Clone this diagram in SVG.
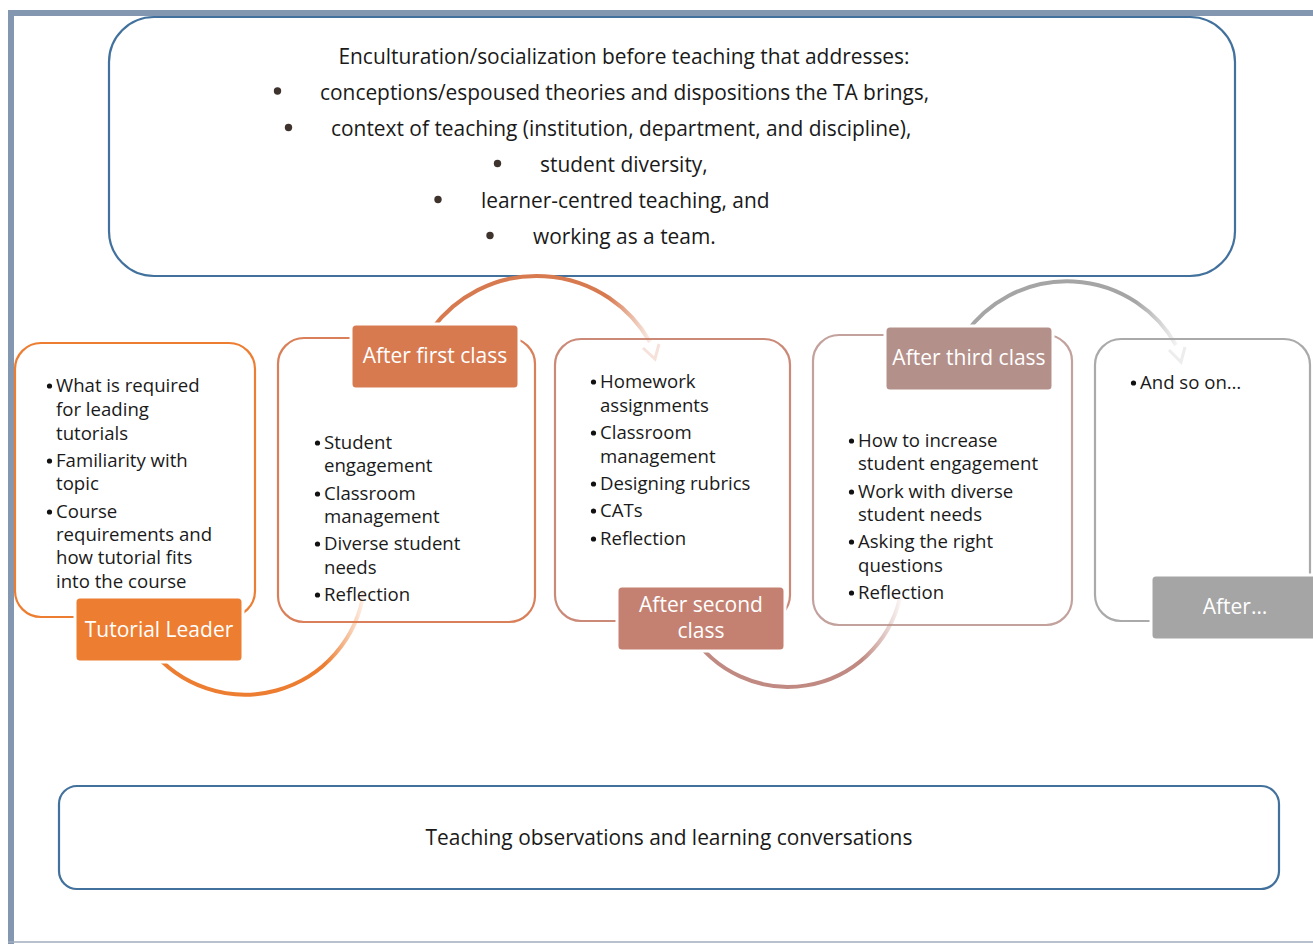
<svg xmlns="http://www.w3.org/2000/svg" width="1313" height="944" viewBox="0 0 1313 944">
<defs>
<style>
.t{font-family:"Open Sans","Liberation Sans",sans-serif;fill:#1a1a1a}
.top{font-size:20.9px}
.bx{font-size:18.6px}
.lb{font-family:"Open Sans","Liberation Sans",sans-serif;font-size:21px;fill:#ffffff;text-anchor:middle}
.big{fill:#ffffff;stroke:#41719C;stroke-width:2.2}
.arc{fill:none;stroke-width:4;stroke-linecap:butt}
.dot{fill:#3F332E}
.bd{fill:#111111}
</style>
<linearGradient id="g1" gradientUnits="userSpaceOnUse" x1="160" y1="0" x2="366" y2="0">
<stop offset="0" stop-color="#ED7D31"/><stop offset="0.8" stop-color="#ED7D31"/><stop offset="1" stop-color="#ED7D31" stop-opacity="0.05"/>
</linearGradient>
<linearGradient id="g2" gradientUnits="userSpaceOnUse" x1="432" y1="0" x2="652" y2="0">
<stop offset="0" stop-color="#D87A50"/><stop offset="0.8" stop-color="#D87A50"/><stop offset="1" stop-color="#D87A50" stop-opacity="0.1"/>
</linearGradient>
<linearGradient id="g3" gradientUnits="userSpaceOnUse" x1="700" y1="0" x2="902" y2="0">
<stop offset="0" stop-color="#C08A82"/><stop offset="0.8" stop-color="#C08A82"/><stop offset="1" stop-color="#C08A82" stop-opacity="0.05"/>
</linearGradient>
<linearGradient id="g4" gradientUnits="userSpaceOnUse" x1="965" y1="0" x2="1178" y2="0">
<stop offset="0" stop-color="#A5A5A5"/><stop offset="0.8" stop-color="#A5A5A5"/><stop offset="1" stop-color="#A5A5A5" stop-opacity="0.1"/>
</linearGradient>
</defs>
<rect width="1313" height="944" fill="#ffffff"/>
<g id="frame">
<rect x="8" y="10" width="1310" height="6" fill="#8497B0"/>
<rect x="8" y="10" width="6" height="934" fill="#8497B0"/>
<line x1="8" y1="942" x2="1313" y2="942" stroke="#A3ADBE" stroke-width="1.5"/>
</g>
<g id="enculturation">
<rect class="big" x="109" y="17" width="1126" height="259" rx="45"/>
<text class="t top" x="624" y="64" text-anchor="middle">Enculturation/socialization before teaching that addresses:</text>
<circle class="dot" cx="277.5" cy="91" r="3.7"/>
<text class="t top" x="320" y="100">conceptions/espoused theories and dispositions the TA brings,</text>
<circle class="dot" cx="288.5" cy="127.5" r="3.7"/>
<text class="t top" x="331" y="136">context of teaching (institution, department, and discipline),</text>
<circle class="dot" cx="497.5" cy="163.5" r="3.7"/>
<text class="t top" x="540" y="172">student diversity,</text>
<circle class="dot" cx="438" cy="199.5" r="3.7"/>
<text class="t top" x="481" y="208">learner-centred teaching, and</text>
<circle class="dot" cx="490" cy="235.5" r="3.7"/>
<text class="t top" x="533" y="244">working as a team.</text>
</g>
<g id="box-tutorial">
<rect x="15" y="343" width="240" height="274" rx="26" fill="#ffffff" stroke="#ED7D31" stroke-width="2.2"/>
<circle class="bd" cx="49.5" cy="386" r="2.6"/><circle class="bd" cx="49.5" cy="461" r="2.6"/><circle class="bd" cx="49.5" cy="512" r="2.6"/>
<text class="t bx"><tspan x="56" y="392">What is required</tspan><tspan x="56" y="416">for leading</tspan><tspan x="56" y="440">tutorials</tspan><tspan x="56" y="467">Familiarity with</tspan><tspan x="56" y="490">topic</tspan><tspan x="56" y="518">Course</tspan><tspan x="56" y="541">requirements and</tspan><tspan x="56" y="564">how tutorial fits</tspan><tspan x="56" y="588">into the course</tspan></text>
</g>
<g id="box-first">
<rect x="278" y="338" width="257" height="284" rx="26" fill="#ffffff" stroke="#D9805A" stroke-width="2.2"/>
<circle class="bd" cx="317.5" cy="443" r="2.6"/><circle class="bd" cx="317.5" cy="494" r="2.6"/><circle class="bd" cx="317.5" cy="544" r="2.6"/><circle class="bd" cx="317.5" cy="595" r="2.6"/>
<text class="t bx"><tspan x="324" y="449">Student</tspan><tspan x="324" y="472">engagement</tspan><tspan x="324" y="500">Classroom</tspan><tspan x="324" y="523">management</tspan><tspan x="324" y="550">Diverse student</tspan><tspan x="324" y="574">needs</tspan><tspan x="324" y="601">Reflection</tspan></text>
</g>
<g id="box-second">
<rect x="555" y="339" width="235" height="282" rx="26" fill="#ffffff" stroke="#CB8A78" stroke-width="2.2"/>
<circle class="bd" cx="593.5" cy="382" r="2.6"/><circle class="bd" cx="593.5" cy="433" r="2.6"/><circle class="bd" cx="593.5" cy="484" r="2.6"/><circle class="bd" cx="593.5" cy="511" r="2.6"/><circle class="bd" cx="593.5" cy="539" r="2.6"/>
<text class="t bx"><tspan x="600" y="388">Homework</tspan><tspan x="600" y="412">assignments</tspan><tspan x="600" y="439">Classroom</tspan><tspan x="600" y="463">management</tspan><tspan x="600" y="490">Designing rubrics</tspan><tspan x="600" y="517">CATs</tspan><tspan x="600" y="545">Reflection</tspan></text>
</g>
<g id="box-third">
<rect x="813" y="335" width="259" height="290" rx="26" fill="#ffffff" stroke="#C3A29D" stroke-width="2.2"/>
<circle class="bd" cx="851.5" cy="441" r="2.6"/><circle class="bd" cx="851.5" cy="492" r="2.6"/><circle class="bd" cx="851.5" cy="542" r="2.6"/><circle class="bd" cx="851.5" cy="593" r="2.6"/>
<text class="t bx"><tspan x="858" y="447">How to increase</tspan><tspan x="858" y="470">student engagement</tspan><tspan x="858" y="498">Work with diverse</tspan><tspan x="858" y="521">student needs</tspan><tspan x="858" y="548">Asking the right</tspan><tspan x="858" y="572">questions</tspan><tspan x="858" y="599">Reflection</tspan></text>
</g>
<g id="box-after">
<rect x="1095" y="339" width="215" height="282" rx="26" fill="#ffffff" stroke="#AAAAAA" stroke-width="2.2"/>
<circle class="bd" cx="1133.5" cy="383" r="2.6"/>
<text class="t bx"><tspan x="1140" y="389">And so on…</tspan></text>
</g>
<g id="connectors">
<path class="arc" stroke="url(#g1)" d="M 150 648 A 120 120 0 0 0 364 590"/>
<path class="arc" stroke="url(#g2)" d="M 432 329 A 130 130 0 0 1 650 342"/>
<polyline points="643,348 655,359 659,344" fill="none" stroke="#F6E2DA" stroke-width="3"/>
<path class="arc" stroke="url(#g3)" d="M 690 632 A 115 115 0 0 0 900 598"/>
<path class="arc" stroke="url(#g4)" d="M 965 334 A 125 125 0 0 1 1176 345"/>
<polyline points="1169,350 1181,362 1185,347" fill="none" stroke="#EDEDED" stroke-width="3"/>
</g>
<g id="label-tutorial">
<rect x="75" y="597" width="168" height="65" rx="5" fill="#ED7D31" stroke="#ffffff" stroke-width="3"/>
<text class="lb" x="159" y="637">Tutorial Leader</text>
</g>
<g id="label-first">
<rect x="351" y="324" width="168" height="65" rx="5" fill="#D87A50" stroke="#ffffff" stroke-width="3"/>
<text class="lb" x="435" y="363">After first class</text>
</g>
<g id="label-second">
<rect x="617" y="586" width="168" height="65" rx="5" fill="#C48171" stroke="#ffffff" stroke-width="3"/>
<text class="lb"><tspan x="701" y="612">After second</tspan><tspan x="701" y="638">class</tspan></text>
</g>
<g id="label-third">
<rect x="885" y="326" width="168" height="65" rx="5" fill="#B4908A" stroke="#ffffff" stroke-width="3"/>
<text class="lb" x="969" y="365">After third class</text>
</g>
<g id="label-after">
<rect x="1151" y="575" width="168" height="65" rx="5" fill="#A5A5A5" stroke="#ffffff" stroke-width="3"/>
<text class="lb" x="1235" y="614">After…</text>
</g>
<g id="observations">
<rect class="big" x="59" y="786" width="1220" height="103" rx="18"/>
<text class="t top" x="669" y="845" text-anchor="middle">Teaching observations and learning conversations</text>
</g>
</svg>
